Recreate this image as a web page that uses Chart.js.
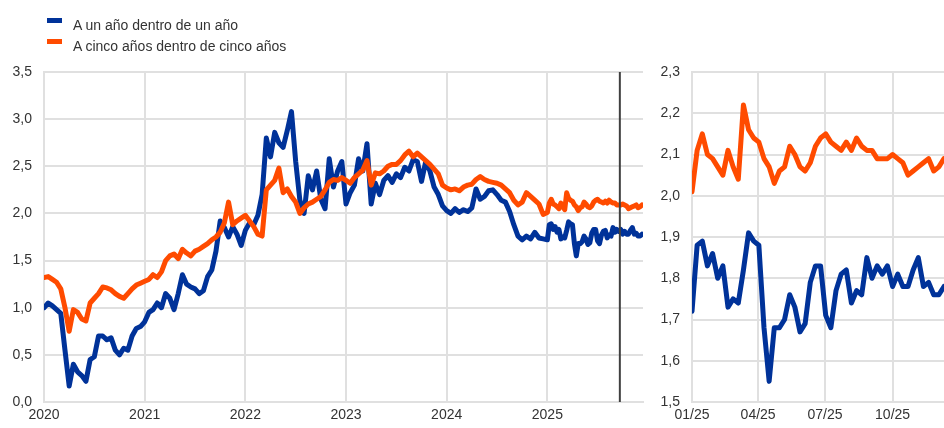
<!DOCTYPE html>
<html>
<head>
<meta charset="utf-8">
<script src="https://cdn.jsdelivr.net/npm/chart.js@4.4.1/dist/chart.umd.min.js"></script>
<style>
html,body{margin:0;padding:0;background:#fff;}
#wrap{position:relative;width:944px;height:428px;overflow:hidden;font-family:"Liberation Sans",Arial,sans-serif;}
#cLeft{position:absolute;left:0;top:0;}
#cRight{position:absolute;left:644px;top:0;}
.sw{position:absolute;left:47px;width:15px;height:5px;}
.lt{position:absolute;left:73px;font-size:14px;line-height:16px;color:#333;white-space:nowrap;}
</style>
</head>
<body>
<div id="wrap">
  <canvas id="cLeft" width="644" height="428"></canvas>
  <canvas id="cRight" width="300" height="428"></canvas>
  <div class="sw" id="sw0" style="top:18px;"></div>
  <div class="lt" id="lt0" style="top:17px;"></div>
  <div class="sw" id="sw1" style="top:39px;"></div>
  <div class="lt" id="lt1" style="top:38px;"></div>
</div>
<script>
// ---------- DATA ----------
const seriesNames = ['A un año dentro de un año', 'A cinco años dentro de cinco años'];
const seriesColors = ['#003299', '#FF4B00'];

// semi-monthly readings (1st and 16th of each month), 2020-2024
const oneYear2020 = [1.00,1.05,1.02,0.98,0.94,0.55,0.17,0.40,0.32,0.28,0.22,0.45,0.48,0.70,0.70,0.66,0.68,0.55,0.50,0.57,0.55,0.70,0.78,0.80];
const fiveYear2020 = [1.32,1.33,1.30,1.27,1.20,1.00,0.75,0.98,0.95,0.88,0.86,1.05,1.10,1.15,1.22,1.21,1.19,1.15,1.12,1.10,1.15,1.20,1.24,1.26];
const oneYear2021 = [0.85,0.95,0.98,1.05,1.00,1.15,1.10,0.98,1.15,1.35,1.25,1.22,1.20,1.15,1.18,1.33,1.40,1.60,1.92,1.85,1.75,1.86,1.78,1.66];
const fiveYear2021 = [1.28,1.30,1.35,1.32,1.38,1.50,1.55,1.57,1.52,1.62,1.58,1.55,1.60,1.62,1.65,1.68,1.72,1.75,1.80,1.90,2.12,1.88,1.92,1.95];
const oneYear2022 = [1.82,1.90,1.88,1.98,2.20,2.80,2.60,2.86,2.75,2.70,2.88,3.08,2.55,2.14,2.00,2.40,2.25,2.45,2.15,2.05,2.58,2.28,2.45,2.55];
const fiveYear2022 = [1.98,1.92,1.86,1.78,1.76,2.25,2.30,2.35,2.48,2.22,2.26,2.18,2.12,2.00,2.06,2.10,2.12,2.15,2.18,2.25,2.33,2.36,2.35,2.38];
const oneYear2023 = [2.10,2.22,2.30,2.58,2.45,2.74,2.10,2.32,2.20,2.35,2.40,2.33,2.42,2.38,2.49,2.45,2.57,2.55,2.34,2.55,2.45,2.28,2.20,2.08];
const fiveYear2023 = [2.35,2.32,2.38,2.42,2.46,2.56,2.30,2.43,2.42,2.45,2.50,2.52,2.52,2.56,2.62,2.66,2.60,2.64,2.60,2.56,2.52,2.47,2.42,2.30];
const oneYear2024 = [2.03,2.00,2.05,2.01,2.04,2.02,2.06,2.26,2.15,2.18,2.24,2.25,2.20,2.14,2.12,2.02,1.88,1.76,1.72,1.76,1.73,1.80,1.74,1.73];
const fiveYear2024 = [2.27,2.25,2.26,2.24,2.28,2.30,2.31,2.36,2.39,2.36,2.34,2.33,2.32,2.30,2.26,2.22,2.14,2.09,2.12,2.22,2.18,2.14,2.10,1.99];

// weekly readings for 2025 (every 7 days from 1 January 2025)
const oneYear2025 = [1.72,1.88,1.89,1.83,1.86,1.80,1.83,1.73,1.75,1.74,1.82,1.91,1.89,1.88,1.68,1.55,1.68,1.68,1.70,1.76,1.73,1.67,1.69,1.79,1.83,1.83,1.71,1.68,1.77,1.81,1.82,1.74,1.77,1.76,1.85,1.80,1.83,1.81,1.83,1.78,1.81,1.78,1.78,1.82,1.85,1.78,1.79,1.76,1.76,1.78];
const fiveYear2025 = [2.01,2.11,2.15,2.10,2.09,2.07,2.05,2.11,2.07,2.04,2.22,2.16,2.14,2.13,2.09,2.07,2.03,2.06,2.07,2.12,2.10,2.07,2.06,2.08,2.12,2.14,2.15,2.13,2.12,2.11,2.13,2.11,2.14,2.12,2.11,2.11,2.09,2.09,2.09,2.10,2.09,2.08,2.05,2.06,2.07,2.08,2.09,2.06,2.07,2.09];

const yearTicks = [2020, 2021, 2022, 2023, 2024, 2025];
const yearTickLabels = ['2020', '2021', '2022', '2023', '2024', '2025'];
const monthTicks = [0, 90, 181, 273];           // days since 1 Jan 2025
const monthTickLabels = ['01/25', '04/25', '07/25', '10/25'];
const markerDate = 2025.72;                     // vertical reference line (left panel)

// ---------- BUILD ----------
const histYears = [2020, 2021, 2022, 2023, 2024];
const histOne = [oneYear2020, oneYear2021, oneYear2022, oneYear2023, oneYear2024];
const histFive = [fiveYear2020, fiveYear2021, fiveYear2022, fiveYear2023, fiveYear2024];
function histPoints(arrs) {
  const pts = [];
  arrs.forEach((arr, yi) => arr.forEach((v, i) => pts.push({x: histYears[yi] + i / 24, y: v})));
  return pts;
}
const days2025 = oneYear2025.map((_, k) => 7 * k);
const leftOne = histPoints(histOne).concat(oneYear2025.map((v, k) => ({x: 2025 + days2025[k] / 365, y: v})));
const leftFive = histPoints(histFive).concat(fiveYear2025.map((v, k) => ({x: 2025 + days2025[k] / 365, y: v})));
const rightOne = oneYear2025.map((v, k) => ({x: days2025[k], y: v}));
const rightFive = fiveYear2025.map((v, k) => ({x: days2025[k], y: v}));

// legend
['0','1'].forEach(i => {
  document.getElementById('sw' + i).style.background = seriesColors[+i];
  document.getElementById('lt' + i).textContent = seriesNames[+i];
});

Chart.defaults.font.family = "'Liberation Sans', Arial, sans-serif";
Chart.defaults.font.size = 14;
Chart.defaults.color = '#333';

const gridColor = '#e0e0e0';
const comma = v => Number(v).toFixed(1).replace('.', ',');

function ds(points, ci, order) {
  return {label: seriesNames[ci], data: points, borderColor: seriesColors[ci], backgroundColor: seriesColors[ci],
    borderWidth: 5, pointRadius: 0, tension: 0, fill: false, order: order,
    borderJoinStyle: 'round', borderCapStyle: 'round'};
}

const markerPlugin = {
  id: 'marker',
  afterDatasetsDraw(chart) {
    const x = chart.scales.x.getPixelForValue(markerDate);
    const {top, bottom} = chart.chartArea;
    const ctx = chart.ctx;
    ctx.save();
    ctx.strokeStyle = '#404040';
    ctx.lineWidth = 2;
    ctx.beginPath();
    ctx.moveTo(x, top);
    ctx.lineTo(x, bottom);
    ctx.stroke();
    ctx.restore();
  }
};

function axisCommon() {
  return {grid: {color: gridColor, lineWidth: 2, drawTicks: false}, border: {color: gridColor, width: 2}};
}

new Chart(document.getElementById('cLeft'), {
  type: 'line',
  data: {datasets: [ds(leftOne, 0, 1), ds(leftFive, 1, 0)]},
  options: {
    responsive: false, animation: false, parsing: true,
    layout: {padding: {top: 72, left: 0, right: 1, bottom: 0}},
    plugins: {legend: {display: false}, tooltip: {enabled: false}},
    scales: {
      x: Object.assign(axisCommon(), {
        type: 'linear', min: 2020, max: 2025.95,
        afterBuildTicks: s => { s.ticks = yearTicks.map(v => ({value: v})); },
        ticks: {autoSkip: false, maxRotation: 0, padding: 5, callback: (v, i) => yearTickLabels[i]},
        afterFit: s => { s.height = 26; }
      }),
      y: Object.assign(axisCommon(), {
        min: 0, max: 3.5,
        ticks: {stepSize: 0.5, padding: 12, callback: v => comma(v)},
        afterFit: s => { s.width = 44; }
      })
    }
  },
  plugins: [markerPlugin]
});

new Chart(document.getElementById('cRight'), {
  type: 'line',
  data: {datasets: [ds(rightOne, 0, 1), ds(rightFive, 1, 0)]},
  options: {
    responsive: false, animation: false,
    layout: {padding: {top: 72, left: 0, right: 0, bottom: 0}},
    plugins: {legend: {display: false}, tooltip: {enabled: false}},
    scales: {
      x: Object.assign(axisCommon(), {
        type: 'linear', min: 0, max: 343,
        afterBuildTicks: s => { s.ticks = monthTicks.map(v => ({value: v})); },
        ticks: {autoSkip: false, maxRotation: 0, padding: 5, callback: (v, i) => monthTickLabels[i]},
        afterFit: s => { s.height = 26; }
      }),
      y: Object.assign(axisCommon(), {
        min: 1.5, max: 2.3,
        ticks: {stepSize: 0.1, padding: 12, callback: v => comma(v)},
        afterFit: s => { s.width = 48; }
      })
    }
  }
});
</script>
</body>
</html>
